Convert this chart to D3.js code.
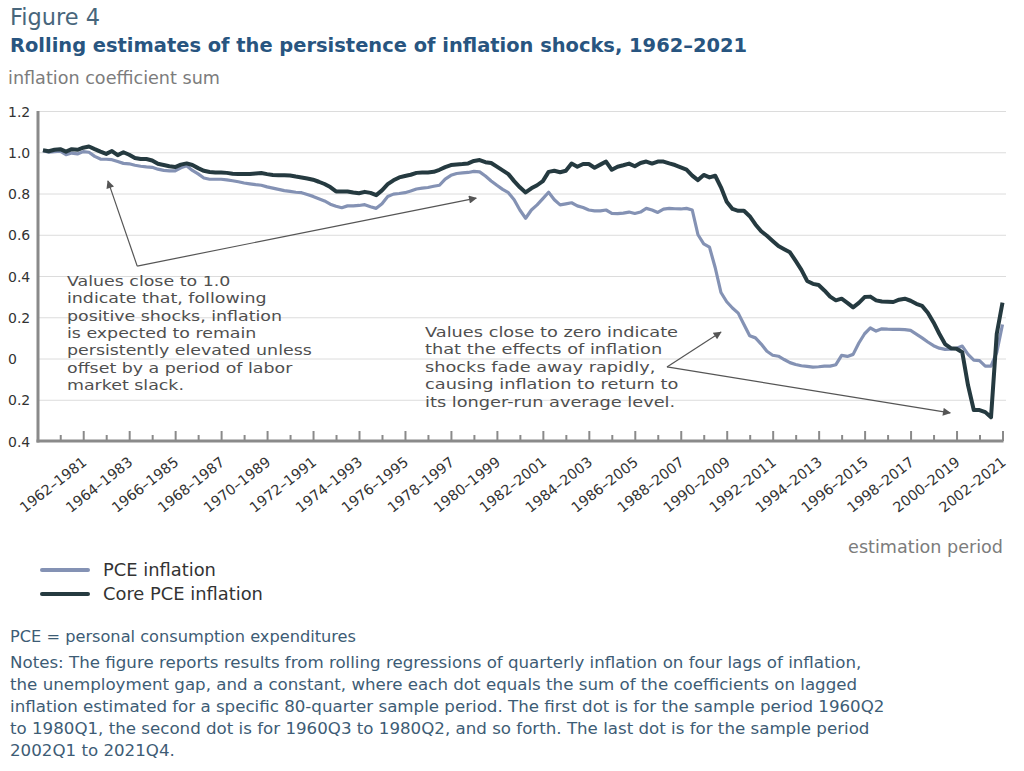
<!DOCTYPE html>
<html><head><meta charset="utf-8">
<script src="https://cdn.jsdelivr.net/npm/d3@7"></script>
<style>body{margin:0;background:#fff}svg{display:block}</style>
</head><body>
<svg id="c" width="1024" height="771"></svg>
<script>
// ---------- DATA ----------
// PCE inflation: sum of lagged-inflation coefficients, one value per 80-quarter window
const pce = [
1.008,1.0,1.003,1.005,0.988,0.996,0.992,1.003,1.0,0.98,
0.967,0.966,0.964,0.955,0.946,0.944,0.937,0.932,0.929,0.927,
0.918,0.912,0.91,0.91,0.925,0.935,0.912,0.895,0.875,0.869,
0.869,0.869,0.866,0.862,0.857,0.851,0.847,0.843,0.84,0.832,
0.826,0.82,0.814,0.81,0.806,0.804,0.795,0.786,0.775,0.764,
0.748,0.738,0.731,0.74,0.74,0.742,0.746,0.736,0.728,0.75,
0.785,0.797,0.8,0.804,0.812,0.822,0.826,0.829,0.835,0.84,
0.87,0.888,0.897,0.9,0.902,0.907,0.905,0.885,0.861,0.84,
0.82,0.804,0.77,0.72,0.68,0.72,0.745,0.775,0.806,0.77,
0.745,0.75,0.755,0.74,0.732,0.72,0.716,0.716,0.72,0.704,
0.702,0.705,0.71,0.703,0.71,0.728,0.72,0.708,0.724,0.728,
0.726,0.725,0.728,0.72,0.6,0.556,0.54,0.44,0.32,0.275,
0.245,0.22,0.165,0.11,0.1,0.07,0.035,0.016,0.011,-0.005,
-0.02,-0.029,-0.035,-0.038,-0.042,-0.04,-0.037,-0.037,-0.03,0.015,
0.01,0.02,0.075,0.12,0.148,0.133,0.144,0.142,0.141,0.141,
0.14,0.136,0.118,0.1,0.08,0.062,0.05,0.044,0.045,0.05,
0.06,0.02,-0.008,-0.01,-0.037,-0.037,0.03,0.165
];
// Core PCE inflation
const core = [
1.01,1.005,1.012,1.015,1.003,1.015,1.012,1.022,1.028,1.015,
1.003,0.992,1.006,0.986,1.0,0.988,0.972,0.967,0.967,0.96,
0.944,0.938,0.932,0.928,0.94,0.946,0.938,0.923,0.91,0.904,
0.902,0.902,0.9,0.896,0.894,0.894,0.895,0.897,0.899,0.894,
0.89,0.889,0.889,0.887,0.882,0.878,0.873,0.867,0.857,0.846,
0.831,0.81,0.81,0.81,0.805,0.801,0.808,0.803,0.792,0.815,
0.845,0.864,0.878,0.885,0.891,0.9,0.902,0.902,0.905,0.915,
0.928,0.938,0.941,0.943,0.946,0.958,0.962,0.952,0.948,0.93,
0.912,0.894,0.86,0.83,0.805,0.825,0.84,0.86,0.905,0.91,
0.903,0.91,0.945,0.93,0.943,0.943,0.925,0.94,0.955,0.915,
0.93,0.937,0.945,0.932,0.948,0.955,0.945,0.955,0.955,0.946,
0.938,0.927,0.916,0.887,0.865,0.89,0.878,0.886,0.83,0.76,
0.725,0.716,0.716,0.69,0.65,0.617,0.595,0.57,0.545,0.53,
0.515,0.473,0.43,0.376,0.362,0.356,0.33,0.3,0.282,0.29,
0.27,0.248,0.27,0.298,0.3,0.282,0.276,0.275,0.274,0.285,
0.29,0.28,0.265,0.255,0.222,0.175,0.12,0.07,0.05,0.047,
0.03,-0.13,-0.25,-0.25,-0.26,-0.285,0.12,0.271
];
// Categories: 80-quarter estimation windows, 1960Q2–1980Q1 ... 2002Q1–2021Q4
const periods = pce.map((_, i) => {
  const s = 1 + i, e = i;
  return (1960 + Math.floor(s / 4)) + "Q" + (s % 4 + 1) + "–" + (1980 + Math.floor(e / 4)) + "Q" + (e % 4 + 1);
});
const xTickLabels = ["1962–1981","1964–1983","1966–1985","1968–1987","1970–1989","1972–1991","1974–1993",
  "1976–1995","1978–1997","1980–1999","1982–2001","1984–2003","1986–2005","1988–2007","1990–2009",
  "1992–2011","1994–2013","1996–2015","1998–2017","2000–2019","2002–2021"];
const xTickEnds = ["1981Q4","1983Q4","1985Q4","1987Q4","1989Q4","1991Q4","1993Q4","1995Q4","1997Q4","1999Q4",
  "2001Q4","2003Q4","2005Q4","2007Q4","2009Q4","2011Q4","2013Q4","2015Q4","2017Q4","2019Q4","2021Q4"];
const xMinorEnds = ["1980Q4","1982Q4","1984Q4","1986Q4","1988Q4","1990Q4","1992Q4","1994Q4","1996Q4","1998Q4",
  "2000Q4","2002Q4","2004Q4","2006Q4","2008Q4","2010Q4","2012Q4","2014Q4","2016Q4","2018Q4","2020Q4"];
const yTicks = [1.2, 1.0, 0.8, 0.6, 0.4, 0.2, 0, -0.2, -0.4];
const yTickLabels = ["1.2","1.0","0.8","0.6","0.4","0.2","0","0.2","0.4"];
const seriesNames = ["PCE inflation", "Core PCE inflation"];
const noteLines = [
  "Notes: The figure reports results from rolling regressions of quarterly inflation on four lags of inflation,",
  "the unemployment gap, and a constant, where each dot equals the sum of the coefficients on lagged",
  "inflation estimated for a specific 80-quarter sample period. The first dot is for the sample period 1960Q2",
  "to 1980Q1, the second dot is for 1960Q3 to 1980Q2, and so forth. The last dot is for the sample period",
  "2002Q1 to 2021Q4."
];
const leftNote = ["Values close to 1.0","indicate that, following","positive shocks, inflation",
  "is expected to remain","persistently elevated unless","offset by a period of labor","market slack."];
const rightNote = ["Values close to zero indicate","that the effects of inflation","shocks fade away rapidly,",
  "causing inflation to return to","its longer-run average level."];

// ---------- CHART ----------
const FONT = "'DejaVu Sans', sans-serif";
const C_PCE = "#8492b4", C_CORE = "#253a40";
const svg = d3.select("#c");
const endOf = p => p.split("–")[1];
const endIndex = {}; periods.forEach((p, i) => endIndex[endOf(p)] = p);

const x = d3.scalePoint().domain(periods).range([43, 1002.5]);
const y = d3.scaleLinear().domain([-0.4, 1.2]).range([441, 111]);
const xi = i => x(periods[0]) + i * x.step();

function fit(sel, w) {
  const l = sel.node().getComputedTextLength();
  const fs = parseFloat(sel.attr("font-size"));
  sel.attr("font-size", (fs * w / l).toFixed(2));
  return fs * w / l;
}
function fitGroup(sel, refIndex, w) {
  const nodes = sel.nodes();
  const l = nodes[refIndex].getComputedTextLength();
  const fs = parseFloat(d3.select(nodes[refIndex]).attr("font-size"));
  sel.attr("font-size", (fs * w / l).toFixed(2));
}
// text block: keep font height, stretch horizontally to target width
function textBlock(lines, x0, y0, lh, fs, color, refIndex, w) {
  const g = svg.append("g").attr("transform", `translate(${x0},${y0})`);
  const t = g.selectAll("text").data(lines).join("text")
    .attr("x", 0).attr("y", (d, i) => i * lh)
    .attr("font-family", FONT).attr("font-size", fs).attr("fill", color).text(d => d);
  const l = t.nodes()[refIndex].getComputedTextLength();
  g.attr("transform", `translate(${x0},${y0}) scale(${(w / l).toFixed(4)},1)`);
  return g;
}

// Titles
fit(svg.append("text").attr("x", 10).attr("y", 25).attr("font-family", FONT).attr("font-size", 19)
  .attr("fill", "#48667c").text("Figure 4"), 90);
fit(svg.append("text").attr("x", 10).attr("y", 52).attr("font-family", FONT).attr("font-size", 19)
  .attr("font-weight", "bold").attr("fill", "#285580")
  .text("Rolling estimates of the persistence of inflation shocks, 1962–2021"), 738);
fit(svg.append("text").attr("x", 8).attr("y", 84).attr("font-family", FONT).attr("font-size", 16)
  .attr("fill", "#7c7c7c").text("inflation coefficient sum"), 212);

// Grid + y labels
const yAx = svg.append("g").attr("transform", "translate(38,0)")
  .call(d3.axisLeft(y).tickValues(yTicks).tickSize(-968).tickFormat((d, i) => yTickLabels[i]));
yAx.select(".domain").remove();
yAx.selectAll(".tick line").attr("stroke", "#dcdcdc").attr("stroke-width", 1)
  .filter(d => d === -0.4).remove();
yAx.selectAll(".tick text").attr("x", -30).attr("dy", "0.36em").attr("text-anchor", "start")
  .attr("font-family", FONT).attr("font-size", 14).attr("fill", "#333");

// Axis lines
svg.append("line").attr("x1", 38).attr("x2", 38).attr("y1", y(1.2)).attr("y2", y(-0.4) + 1.5)
  .attr("stroke", "#8a8a8a").attr("stroke-width", 3);
svg.append("line").attr("x1", 36.5).attr("x2", 1003.5).attr("y1", y(-0.4)).attr("y2", y(-0.4))
  .attr("stroke", "#8a8a8a").attr("stroke-width", 3);

// X ticks (inward)
const majors = xTickEnds.map(e => endIndex[e]);
const minors = xMinorEnds.map(e => endIndex[e]);
const xAx = svg.append("g").attr("transform", `translate(0,${y(-0.4)})`)
  .call(d3.axisBottom(x).tickValues(majors).tickSizeInner(-10).tickSizeOuter(0)
    .tickFormat((d, i) => xTickLabels[i]));
xAx.select(".domain").remove();
xAx.selectAll(".tick line").attr("stroke", "#8a8a8a").attr("stroke-width", 2);
xAx.selectAll(".tick text").attr("y", null).attr("dy", null)
  .attr("transform", "translate(4,23) rotate(-38)").attr("text-anchor", "end")
  .attr("font-family", FONT).attr("font-size", 14).attr("fill", "#333");
const xMin = svg.append("g").attr("transform", `translate(0,${y(-0.4)})`)
  .call(d3.axisBottom(x).tickValues(minors).tickSizeInner(-6).tickSizeOuter(0).tickFormat(""));
xMin.select(".domain").remove();
xMin.selectAll(".tick line").attr("stroke", "#8a8a8a").attr("stroke-width", 2);
const xl = xAx.selectAll(".tick text");
fitGroup(xl, 0, 80);

// Lines
const line = d3.line().x((d, i) => x(periods[i])).y(d => y(d));
svg.append("path").datum(pce).attr("d", line).attr("fill", "none")
  .attr("stroke", C_PCE).attr("stroke-width", 3.2).attr("stroke-linejoin", "round");
svg.append("path").datum(core).attr("d", line).attr("fill", "none")
  .attr("stroke", C_CORE).attr("stroke-width", 4).attr("stroke-linejoin", "round");

// Annotations
const defs = svg.append("defs");
defs.append("marker").attr("id", "ah").attr("viewBox", "0 0 10 10").attr("refX", 9).attr("refY", 5)
  .attr("markerWidth", 11).attr("markerHeight", 8).attr("markerUnits", "userSpaceOnUse")
  .attr("orient", "auto")
  .append("path").attr("d", "M0,0 L10,5 L0,10 Z").attr("fill", "#555");
const arrows = [
  { from: [16.4, 0.448], to: [11.3, 0.861] },
  { from: [16.4, 0.448], to: [75.4, 0.778] },
  { from: [108.6, -0.041], to: [118.0, 0.128] },
  { from: [108.6, -0.041], to: [157.9, -0.264] }
];
arrows.forEach(a => {
  svg.append("line").attr("x1", xi(a.from[0])).attr("y1", y(a.from[1]))
    .attr("x2", xi(a.to[0])).attr("y2", y(a.to[1]))
    .attr("stroke", "#555").attr("stroke-width", 1.2).attr("marker-end", "url(#ah)");
});
textBlock(leftNote, 67, 286, 17.33, 14.6, "#4f4f4f", 4, 245);
textBlock(rightNote, 425, 337, 17.5, 14.6, "#4f4f4f", 0, 253);

// X axis title
fit(svg.append("text").attr("x", 1003).attr("y", 553).attr("text-anchor", "end")
  .attr("font-family", FONT).attr("font-size", 16).attr("fill", "#7c7c7c").text("estimation period"), 155);

// Legend
const lg = svg.append("g");
[C_PCE, C_CORE].forEach((c, i) => {
  lg.append("line").attr("x1", 42).attr("x2", 88).attr("y1", 570 + i * 24).attr("y2", 570 + i * 24)
    .attr("stroke", c).attr("stroke-width", 4).attr("stroke-linecap", "round");
});
const lt = lg.selectAll("text").data(seriesNames).join("text")
  .attr("x", 103).attr("y", (d, i) => 576 + i * 24)
  .attr("font-family", FONT).attr("font-size", 16).attr("fill", "#333").text(d => d);
fitGroup(lt, 1, 160);

// Notes
fit(svg.append("text").attr("x", 10).attr("y", 642).attr("font-family", FONT).attr("font-size", 15)
  .attr("fill", "#3d5c75").text("PCE = personal consumption expenditures"), 346);
const nt = svg.append("g").selectAll("text").data(noteLines).join("text")
  .attr("x", 10).attr("y", (d, i) => 668 + i * 22)
  .attr("font-family", FONT).attr("font-size", 15).attr("fill", "#3d5c75").text(d => d);
fitGroup(nt, 0, 852);
</script>
</body></html>
